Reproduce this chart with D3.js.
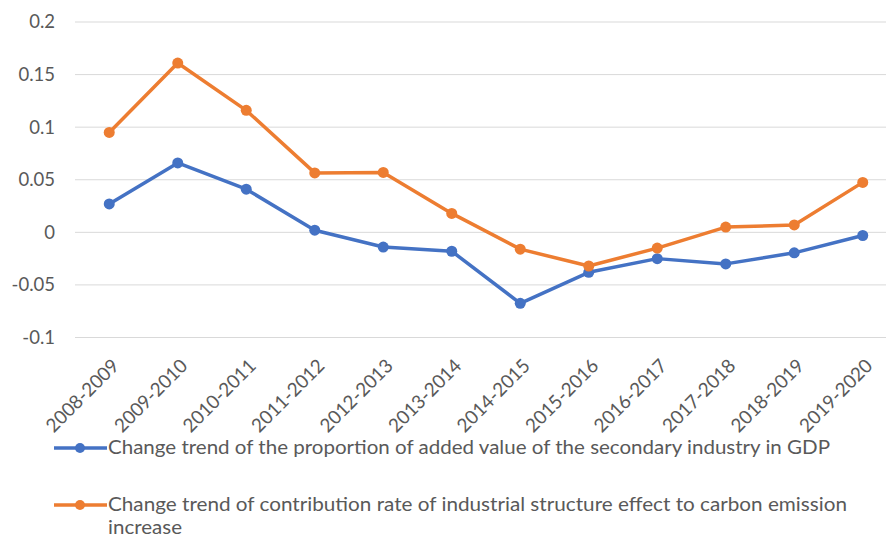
<!DOCTYPE html>
<html><head><meta charset="utf-8">
<script src="https://cdn.jsdelivr.net/npm/d3@7"></script>
<style>body{margin:0;background:#fff;} svg{display:block;}</style>
</head><body>
<svg id="chart" width="886" height="538"></svg>
<script>
const categories = ["2008-2009","2009-2010","2010-2011","2011-2012","2012-2013","2013-2014","2014-2015","2015-2016","2016-2017","2017-2018","2018-2019","2019-2020"];
const secondaryShare = [0.027,0.066,0.041,0.002,-0.014,-0.018,-0.0675,-0.038,-0.025,-0.030,-0.0195,-0.003];
const structureEffect = [0.095,0.161,0.116,0.0565,0.057,0.018,-0.016,-0.032,-0.015,0.005,0.007,0.0475];
const yTicks = [0.2,0.15,0.1,0.05,0,-0.05,-0.1];
const seriesNames = ["Change trend of the proportion of added value of the secondary industry in GDP",
  "Change trend of contribution rate of industrial structure effect to carbon emission"];
const seriesNameWrap = "increase";
const colors = ["#4472C4","#ED7D31"];

const svg = d3.select("#chart");
const font = "Lato, 'Open Sans', sans-serif";
const textColor = "#595959";

const x = d3.scaleBand().domain(categories).range([75, 897]);
const y = d3.scaleLinear().domain([-0.1, 0.2]).range([337.5, 22]);

// gridlines
svg.append("g").selectAll("line").data(yTicks).join("line")
  .attr("x1", 75).attr("x2", 897)
  .attr("y1", d => y(d)).attr("y2", d => y(d))
  .attr("stroke", "#d9d9d9").attr("stroke-width", 1);

// y labels
svg.append("g").selectAll("text").data(yTicks).join("text")
  .attr("x", 55).attr("y", d => y(d)).attr("dy", "0.35em")
  .attr("text-anchor", "end")
  .attr("font-family", font).attr("font-size", 18.5).attr("fill", textColor)
  .text(d => String(d));

// x labels
svg.append("g").selectAll("text").data(categories).join("text")
  .attr("transform", d => `translate(${x(d) + x.bandwidth()/2 + 11},${367}) rotate(-45)`)
  .attr("text-anchor", "end")
  .attr("font-family", font).attr("font-size", 19).attr("fill", textColor)
  .attr("textLength", 94).attr("lengthAdjust", "spacingAndGlyphs")
  .text(d => d);

const cx = d => x(d) + x.bandwidth()/2;
const line = d3.line().x((d,i) => cx(categories[i])).y(d => y(d));

[secondaryShare, structureEffect].forEach((vals, k) => {
  const g = svg.append("g");
  g.append("path").datum(vals).attr("d", line)
    .attr("fill", "none").attr("stroke", colors[k]).attr("stroke-width", 3.5)
    .attr("stroke-linejoin", "round");
  g.selectAll("circle").data(vals).join("circle")
    .attr("cx", (d,i) => cx(categories[i])).attr("cy", d => y(d))
    .attr("r", 5.5).attr("fill", colors[k]);
});

// legend
const legendRows = [{y: 448, w: 722}, {y: 505, w: 739}];
legendRows.forEach((r, k) => {
  const g = svg.append("g");
  g.append("line").attr("x1", 54).attr("x2", 107).attr("y1", r.y).attr("y2", r.y)
    .attr("stroke", colors[k]).attr("stroke-width", 3.5);
  g.append("circle").attr("cx", 80).attr("cy", r.y).attr("r", 5).attr("fill", colors[k]);
  g.append("text").attr("x", 108).attr("y", r.y).attr("dy", "0.35em")
    .attr("font-family", font).attr("font-size", 18.5).attr("fill", textColor)
    .attr("textLength", r.w).attr("lengthAdjust", "spacingAndGlyphs")
    .text(seriesNames[k]);
});
svg.append("text").attr("x", 108).attr("y", 528).attr("dy", "0.35em")
  .attr("font-family", font).attr("font-size", 18.5).attr("fill", textColor)
  .attr("textLength", 74).attr("lengthAdjust", "spacingAndGlyphs")
  .text(seriesNameWrap);
</script>
</body></html>
